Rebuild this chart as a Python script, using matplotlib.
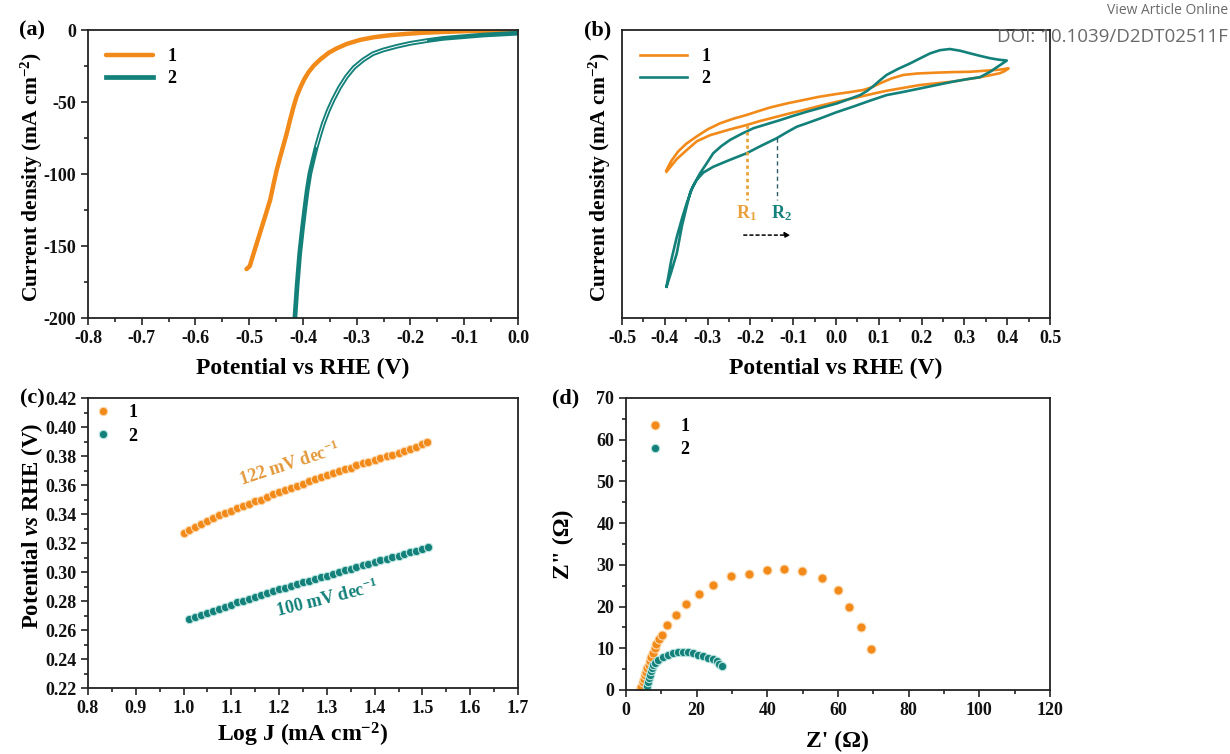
import matplotlib
matplotlib.use('Agg')
import matplotlib.pyplot as plt
from matplotlib.ticker import MultipleLocator

plt.rcParams['font.family'] = ['Liberation Serif', 'DejaVu Serif']
plt.rcParams['font.weight'] = 'bold'
plt.rcParams['axes.unicode_minus'] = False
plt.rcParams['mathtext.fontset'] = 'custom'
plt.rcParams['mathtext.rm'] = 'Liberation Serif:bold'
plt.rcParams['mathtext.it'] = 'Liberation Serif:bold:italic'
plt.rcParams['mathtext.bf'] = 'Liberation Serif:bold'

ORANGE = '#F28A1A'
TEAL = '#13817A'

# (a) LSV polarisation curves
lsv1_v = [-0.505, -0.499, -0.490, -0.480, -0.470, -0.461, -0.455, -0.449, -0.443, -0.437,
          -0.430, -0.424, -0.418, -0.412, -0.405, -0.398, -0.390, -0.380, -0.368, -0.352,
          -0.337, -0.318, -0.294, -0.268, -0.238, -0.205, -0.176, -0.135, -0.096, -0.050, 0.0]
lsv1_j = [-166.0, -164.0, -153.0, -141.0, -129.0, -118.0, -107.5, -97.5, -89.0, -81.0,
          -71.5, -62.5, -54.0, -46.5, -40.0, -34.5, -29.5, -24.8, -20.5, -15.8,
          -12.7, -9.6, -6.9, -5.0, -3.6, -2.6, -1.9, -1.3, -0.8, -0.5, -0.3]
lsv2_v = [-0.415, -0.411, -0.406, -0.401, -0.396, -0.392, -0.387, -0.381, -0.375, -0.368,
          -0.362, -0.353, -0.344, -0.332, -0.319, -0.305, -0.288, -0.270, -0.251, -0.225,
          -0.201, -0.170, -0.139, -0.100, -0.065, -0.030, 0.0]
lsv2_j = [-200.0, -178.0, -155.0, -138.0, -122.5, -111.0, -99.5, -90.0, -81.0, -72.0,
          -64.8, -56.0, -48.6, -40.0, -32.4, -26.0, -20.8, -16.5, -13.9, -11.3,
          -9.3, -7.4, -5.8, -4.6, -3.5, -2.8, -2.2]

# (b) CV loops (arbitrary current scale, no tick labels)
cv1_v = [-0.396, -0.385, -0.369, -0.350, -0.326, -0.300, -0.271, -0.240, -0.209, -0.180,
         -0.154, -0.115, -0.076, -0.040, 0.002, 0.035, 0.064, 0.085, 0.103, 0.130,
         0.157, 0.190, 0.235, 0.275, 0.313, 0.352, 0.380, 0.403,
         0.395, 0.383, 0.360, 0.336, 0.305, 0.274, 0.235, 0.196, 0.157, 0.118,
         0.090, 0.064, 0.033, 0.002, -0.037, -0.076, -0.115, -0.154, -0.180, -0.209,
         -0.250, -0.294, -0.325, -0.349, -0.372, -0.396]
cv1_j = [-48.6, -45.5, -42.2, -39.5, -37.0, -34.5, -32.4, -30.8, -29.5, -28.1,
         -26.9, -25.5, -24.3, -23.2, -22.2, -21.5, -20.8, -19.8, -18.5, -16.8,
         -15.6, -15.1, -14.8, -14.6, -14.5, -14.1, -13.8, -13.3,
         -14.2, -15.0, -15.7, -16.4, -17.1, -17.9, -18.5, -19.1, -20.1, -21.1,
         -22.0, -22.9, -23.9, -24.9, -26.3, -27.8, -29.2, -30.7, -31.7, -33.0,
         -34.6, -36.5, -38.6, -41.7, -44.8, -49.2]
cv2_v = [-0.396, -0.385, -0.372, -0.360, -0.349, -0.335, -0.318, -0.300, -0.287, -0.268,
         -0.248, -0.220, -0.193, -0.160, -0.131, -0.100, -0.069, -0.035, 0.002, 0.030,
         0.056, 0.072, 0.087, 0.100, 0.118, 0.145, 0.173, 0.197, 0.220, 0.243,
         0.266, 0.290, 0.313, 0.337, 0.360, 0.380, 0.399,
         0.390, 0.383, 0.360, 0.336, 0.305, 0.274, 0.235, 0.196, 0.157, 0.118,
         0.080, 0.040, 0.000, -0.037, -0.065, -0.092, -0.115, -0.139, -0.175, -0.209,
         -0.250, -0.287, -0.310, -0.326, -0.340, -0.349, -0.360, -0.372, -0.385, -0.396]
cv2_j = [-89.1, -80.0, -71.8, -65.5, -60.2, -54.5, -49.8, -45.8, -42.8, -40.3,
         -38.2, -36.0, -34.1, -32.6, -31.3, -29.8, -28.4, -27.0, -25.5, -24.0,
         -22.6, -21.2, -19.5, -17.8, -15.6, -13.5, -11.6, -9.8, -8.1, -7.0,
         -6.6, -7.2, -8.1, -9.0, -9.8, -10.3, -10.6,
         -11.5, -12.2, -14.5, -16.4, -17.1, -17.9, -19.1, -20.3, -21.5, -22.6,
         -24.5, -26.6, -28.6, -30.7, -32.2, -33.6, -35.5, -37.6, -40.2, -42.8,
         -45.2, -47.5, -49.5, -52.1, -56.0, -61.3, -68.0, -77.5, -84.0, -89.1]

# (c) Tafel plots
taf1_x = [1.000, 1.012, 1.025, 1.037, 1.050, 1.062, 1.075, 1.087, 1.100, 1.112,
          1.125, 1.137, 1.150, 1.162, 1.175, 1.187, 1.200, 1.212, 1.225, 1.237,
          1.250, 1.262, 1.275, 1.287, 1.300, 1.312, 1.325, 1.337, 1.350, 1.362,
          1.375, 1.387, 1.400, 1.412, 1.425, 1.437, 1.450, 1.462, 1.475, 1.487,
          1.500, 1.510]
taf1_y = [0.3270, 0.3290, 0.3310, 0.3330, 0.3350, 0.3370, 0.3390, 0.3405, 0.3420, 0.3440,
          0.3455, 0.3470, 0.3490, 0.3500, 0.3520, 0.3535, 0.3550, 0.3565, 0.3580, 0.3595,
          0.3610, 0.3625, 0.3640, 0.3655, 0.3670, 0.3680, 0.3695, 0.3710, 0.3720, 0.3735,
          0.3750, 0.3760, 0.3775, 0.3785, 0.3800, 0.3810, 0.3820, 0.3835, 0.3850, 0.3860,
          0.3880, 0.3900]
taf2_x = [1.012, 1.025, 1.037, 1.050, 1.062, 1.075, 1.087, 1.100, 1.112, 1.125,
          1.137, 1.150, 1.162, 1.175, 1.187, 1.200, 1.212, 1.225, 1.237, 1.250,
          1.262, 1.275, 1.287, 1.300, 1.312, 1.325, 1.337, 1.350, 1.362, 1.375,
          1.387, 1.400, 1.412, 1.425, 1.437, 1.450, 1.462, 1.475, 1.487, 1.500,
          1.512]
taf2_y = [0.2675, 0.2690, 0.2705, 0.2720, 0.2734, 0.2748, 0.2762, 0.2776, 0.2790, 0.2803,
          0.2816, 0.2829, 0.2842, 0.2855, 0.2868, 0.2880, 0.2892, 0.2904, 0.2916, 0.2928,
          0.2940, 0.2952, 0.2964, 0.2976, 0.2988, 0.3000, 0.3012, 0.3024, 0.3036, 0.3047,
          0.3058, 0.3069, 0.3080, 0.3091, 0.3102, 0.3113, 0.3124, 0.3135, 0.3146, 0.3157,
          0.3175]

# (d) Nyquist plots
eis1_re = [3.9, 4.3, 4.7, 5.0, 5.4, 5.7, 6.0, 6.4, 6.8, 7.2, 7.7, 8.1, 8.6, 9.3, 10.1,
           11.5, 14.1, 17.1, 20.7, 24.6, 29.6, 34.8, 39.9, 44.6, 49.8, 55.6, 59.9,
           63.2, 66.4, 69.3]
eis1_im = [0.0, 0.8, 1.9, 2.7, 3.5, 4.3, 5.2, 6.0, 6.9, 7.9, 8.9, 10.0, 11.0, 12.2, 13.3,
           15.5, 17.9, 20.6, 22.9, 25.2, 27.3, 27.8, 28.8, 29.0, 28.6, 26.9, 23.9,
           19.9, 15.0, 9.9]
eis2_re = [5.85, 6.0, 6.3, 6.5, 6.8, 7.0, 7.3, 7.7, 8.2, 9.2, 10.6, 12.0, 13.4, 14.8,
           16.2, 17.6, 19.1, 20.5, 21.9, 23.3, 24.7, 25.7, 26.4, 27.1]
eis2_im = [0.0, 1.0, 2.0, 2.8, 3.7, 4.5, 5.3, 5.9, 6.5, 7.3, 8.0, 8.5, 8.9, 9.1,
           9.2, 9.1, 8.9, 8.5, 8.2, 7.7, 7.5, 6.9, 6.3, 5.7]

TICK_FS = 13
LABEL_FS = 17
YLABEL_FS = 15.5


def style_axes(ax):
    for s in ax.spines.values():
        s.set_linewidth(1.3)
        s.set_color('#222222')
    ax.tick_params(which='both', direction='out', top=False, right=False,
                   labelsize=TICK_FS, width=1.1, colors='#111111')
    ax.tick_params(which='major', length=5)
    ax.tick_params(which='minor', length=3)
    for lab in ax.get_xticklabels() + ax.get_yticklabels():
        lab.set_fontweight('bold')


fig = plt.figure(figsize=(12.3, 7.54), dpi=100)

# ---------- (a)
ax = fig.add_axes([0.0715, 0.5782, 0.3496, 0.3820])
ax.plot(lsv1_v, lsv1_j, color=ORANGE, lw=3.2, label='1', solid_capstyle='round')
ax.plot(lsv2_v, lsv2_j, color=TEAL, lw=3.4, label='2')
ax.plot(lsv2_v[8:22], lsv2_j[8:22], color='white', lw=0.7)
ax.set_xlim(-0.8, 0.0)
ax.set_ylim(-200, 0)
ax.xaxis.set_minor_locator(MultipleLocator(0.05))
ax.yaxis.set_major_locator(MultipleLocator(50))
ax.yaxis.set_minor_locator(MultipleLocator(25))
ax.set_xticks([-0.8, -0.7, -0.6, -0.5, -0.4, -0.3, -0.2, -0.1, 0.0])
ax.set_xticklabels(['-0.8', '-0.7', '-0.6', '-0.5', '-0.4', '-0.3', '-0.2', '-0.1', '0.0'])
style_axes(ax)
ax.set_xlabel('Potential vs RHE (V)', fontsize=LABEL_FS, fontweight='bold', labelpad=8)
ax.set_ylabel('Current density (mA cm$^{-2}$)', fontsize=YLABEL_FS, fontweight='bold')
ax.yaxis.set_label_coords(-0.10, 0.49)
ax.legend(loc='upper left', frameon=False, handlelength=2.6,
          borderaxespad=0.6, labelspacing=0.3, prop={'weight': 'bold', 'size': 13})

# ---------- (b)
ax = fig.add_axes([0.5057, 0.5782, 0.3480, 0.3820])
ax.plot(cv1_v, cv1_j, color=ORANGE, lw=1.9, label='1')
ax.plot(cv2_v, cv2_j, color=TEAL, lw=1.9, label='2')
ax.plot([-0.209, -0.209], [-33.0, -59.0], color='#E9A23B', lw=2.0, ls=(0, (1.2, 1.2)))
ax.plot([-0.139, -0.139], [-37.6, -59.0], color='#2C5E66', lw=1.0, ls=(0, (3, 2.5)))
ax.text(-0.209, -63.5, 'R$_1$', color='#E9A23B', fontsize=13, ha='center', va='center')
ax.text(-0.128, -63.5, 'R$_2$', color=TEAL, fontsize=13, ha='center', va='center')
ax.annotate('', xy=(-0.100, -71.2), xytext=(-0.222, -71.2),
            arrowprops=dict(arrowstyle='-|>', color='black', lw=1.1, ls=(0, (2, 2)),
                            mutation_scale=8))
ax.set_xlim(-0.5, 0.5)
ax.set_ylim(-100, 0)
ax.xaxis.set_minor_locator(MultipleLocator(0.05))
ax.set_xticks([-0.5, -0.4, -0.3, -0.2, -0.1, 0.0, 0.1, 0.2, 0.3, 0.4, 0.5])
ax.set_xticklabels(['-0.5', '-0.4', '-0.3', '-0.2', '-0.1', '0.0', '0.1', '0.2', '0.3', '0.4', '0.5'])
ax.set_yticks([])
style_axes(ax)
ax.set_xlabel('Potential vs RHE (V)', fontsize=LABEL_FS, fontweight='bold', labelpad=8)
ax.set_ylabel('Current density (mA cm$^{-2}$)', fontsize=YLABEL_FS, fontweight='bold')
ax.yaxis.set_label_coords(-0.022, 0.49)
ax.legend(loc='upper left', frameon=False, handlelength=2.6, borderaxespad=0.6,
          labelspacing=0.3, prop={'weight': 'bold', 'size': 13})

# ---------- (c)
ax = fig.add_axes([0.0715, 0.0875, 0.3496, 0.3846])
ax.plot(taf1_x, taf1_y, 'o', color=ORANGE, ms=6, mec='#FCD9AE', mew=0.8, label='1')
ax.plot(taf2_x, taf2_y, 'o', color=TEAL, ms=6, mec='#B9E4DF', mew=0.8, label='2')
ax.text(1.222, 0.3745, '122 mV dec$^{-1}$', color='#E3993A', fontsize=13,
        rotation=18, ha='center', va='center')
ax.text(1.30, 0.2815, '100 mV dec$^{-1}$', color=TEAL, fontsize=13,
        rotation=14, ha='center', va='center')
ax.set_xlim(0.8, 1.7)
ax.set_ylim(0.22, 0.42)
ax.xaxis.set_minor_locator(MultipleLocator(0.05))
ax.yaxis.set_minor_locator(MultipleLocator(0.01))
ax.set_xticks([0.8, 0.9, 1.0, 1.1, 1.2, 1.3, 1.4, 1.5, 1.6, 1.7])
ax.set_xticklabels(['0.8', '0.9', '1.0', '1.1', '1.2', '1.3', '1.4', '1.5', '1.6', '1.7'])
ax.set_yticks([0.22, 0.24, 0.26, 0.28, 0.30, 0.32, 0.34, 0.36, 0.38, 0.40, 0.42])
ax.set_yticklabels(['0.22', '0.24', '0.26', '0.28', '0.30', '0.32', '0.34', '0.36',
                    '0.38', '0.40', '0.42'])
style_axes(ax)
ax.set_xlabel('Log J (mA cm$^{-2}$)', fontsize=LABEL_FS, fontweight='bold', labelpad=3)
ax.set_ylabel('Potential $vs$ RHE (V)', fontsize=16.5, fontweight='bold')
ax.yaxis.set_label_coords(-0.10, 0.56)
ax.legend(loc='upper left', frameon=False, handlelength=1.0, handletextpad=0.9,
          borderaxespad=0.15, borderpad=0.2, labelspacing=0.35,
          prop={'weight': 'bold', 'size': 13})

# ---------- (d)
ax = fig.add_axes([0.5089, 0.0849, 0.3447, 0.3873])
ax.plot(eis1_re, eis1_im, 'o', color=ORANGE, ms=6.5, mec='#FCD9AE', mew=0.8, label='1')
ax.plot(eis2_re, eis2_im, 'o', color=TEAL, ms=6, mec='#B9E4DF', mew=0.8, label='2')
ax.set_xlim(0, 120)
ax.set_ylim(0, 70)
ax.xaxis.set_major_locator(MultipleLocator(20))
ax.xaxis.set_minor_locator(MultipleLocator(10))
ax.yaxis.set_major_locator(MultipleLocator(10))
ax.yaxis.set_minor_locator(MultipleLocator(5))
style_axes(ax)
ax.set_xlabel("Z' (\u03a9)", fontsize=LABEL_FS, fontweight='bold', labelpad=9)
ax.set_ylabel('Z" (\u03a9)', fontsize=LABEL_FS, fontweight='bold', labelpad=16)
ax.legend(loc='upper left', frameon=False, handlelength=1.0, handletextpad=0.9,
          borderaxespad=0.9, borderpad=0.2, labelspacing=0.35,
          prop={'weight': 'bold', 'size': 13})

# panel letters
fig.text(32 / 1230, 1 - 30 / 754, '(a)', fontsize=16, fontweight='bold', ha='center', va='center')
fig.text(598 / 1230, 1 - 30 / 754, '(b)', fontsize=16, fontweight='bold', ha='center', va='center')
fig.text(32 / 1230, 1 - 398 / 754, '(c)', fontsize=16, fontweight='bold', ha='center', va='center')
fig.text(566 / 1230, 1 - 398 / 754, '(d)', fontsize=16, fontweight='bold', ha='center', va='center')

# journal watermark
fig.text(1228 / 1230, 1 - 11 / 754, 'View Article Online', fontsize=10, color='#6a6a6a',
         ha='right', va='center', family='Open Sans', fontweight='normal')
fig.text(1228 / 1230, 1 - 37 / 754, 'DOI: 10.1039/D2DT02511F', fontsize=13.5, color='#6a6a6a',
         ha='right', va='center', family='Open Sans', fontweight='normal')

fig.savefig('out.png', dpi=100, facecolor='white')
